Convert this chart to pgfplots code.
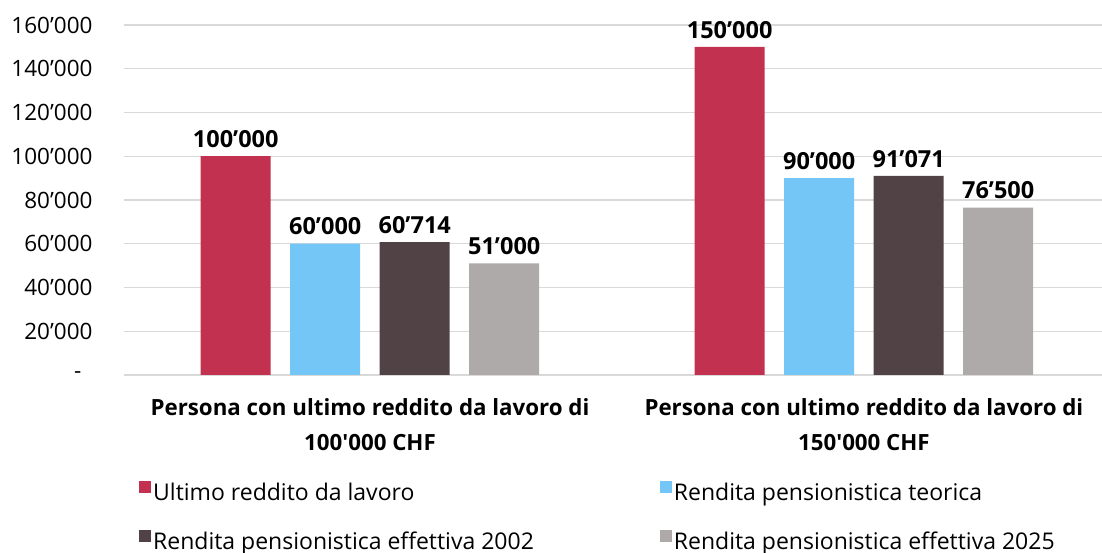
\documentclass[border=0pt]{standalone}
\usepackage{pgfplots}
\pgfplotsset{compat=1.18}
\usepackage{fontspec}
\setmainfont{Open Sans}[Ligatures=NoCommon]
\definecolor{cRed}{HTML}{C23150}
\definecolor{cBlue}{HTML}{73C6F5}
\definecolor{cDark}{HTML}{514246}
\definecolor{cGrey}{HTML}{AEAAAA}
\definecolor{cGrid}{HTML}{D9D9D9}
\begin{document}
\begin{tikzpicture}
\begin{axis}[
  name=ax,
  scale only axis,
  width=978pt, height=350pt,
  xmin=-0.498, xmax=1.482,
  ymin=0, ymax=160000,
  scaled y ticks=false,
  ybar=19.5pt, bar width=70pt,
  axis line style={draw=none},
  major tick length=0pt,
  ymajorgrids, grid style={cGrid, line width=1.3pt},
  ytick={0,20000,40000,60000,80000,100000,120000,140000,160000},
  yticklabels={-\hspace*{11pt},20’000,40’000,60’000,80’000,100’000,120’000,140’000,160’000},
  yticklabel style={font=\fontsize{22.5}{24}\selectfont, xshift=-28pt, anchor=east},
  xtick={0,1},
  xticklabels={Persona con ultimo reddito da lavoro di\\100\textquotesingle 000 CHF, Persona con ultimo reddito da lavoro di\\150\textquotesingle 000 CHF},
  xticklabel style={font=\fontsize{22.3}{35}\selectfont\bfseries, align=center, yshift=-20pt},
  nodes near coords,
  point meta=explicit symbolic,
  every node near coord/.append style={font=\fontsize{23.5}{24}\selectfont\bfseries, yshift=5pt},
  legend columns=2,
  legend style={draw=none, fill=none, at={(0,-0.296)}, anchor=north west, xshift=12pt,
    font=\fontsize{23}{26}\selectfont, row sep=26pt,
    /tikz/every even column/.append style={column sep=124pt}},
  legend cell align=left,
  legend image code/.code={\fill[#1] (0pt,-1pt) rectangle (12pt,11pt);},
]
\addplot[fill=cRed, draw=none] coordinates {(0,100000)[100’000] (1,150000)[150’000]};
\addplot[fill=cBlue, draw=none] coordinates {(0,60000)[60’000] (1,90000)[90’000]};
\addplot[fill=cDark, draw=none] coordinates {(0,60714)[60’714] (1,91071)[91’071]};
\addplot[fill=cGrey, draw=none] coordinates {(0,51000)[51’000] (1,76500)[76’500]};
\legend{Ultimo reddito da lavoro, Rendita pensionistica teorica, Rendita pensionistica effettiva 2002, Rendita pensionistica effettiva 2025}
\end{axis}
\pgfresetboundingbox
\path[use as bounding box] ([xshift=-124pt,yshift=-178pt]ax.south west) rectangle ([yshift=25pt]ax.north east);
\end{tikzpicture}
\end{document}
